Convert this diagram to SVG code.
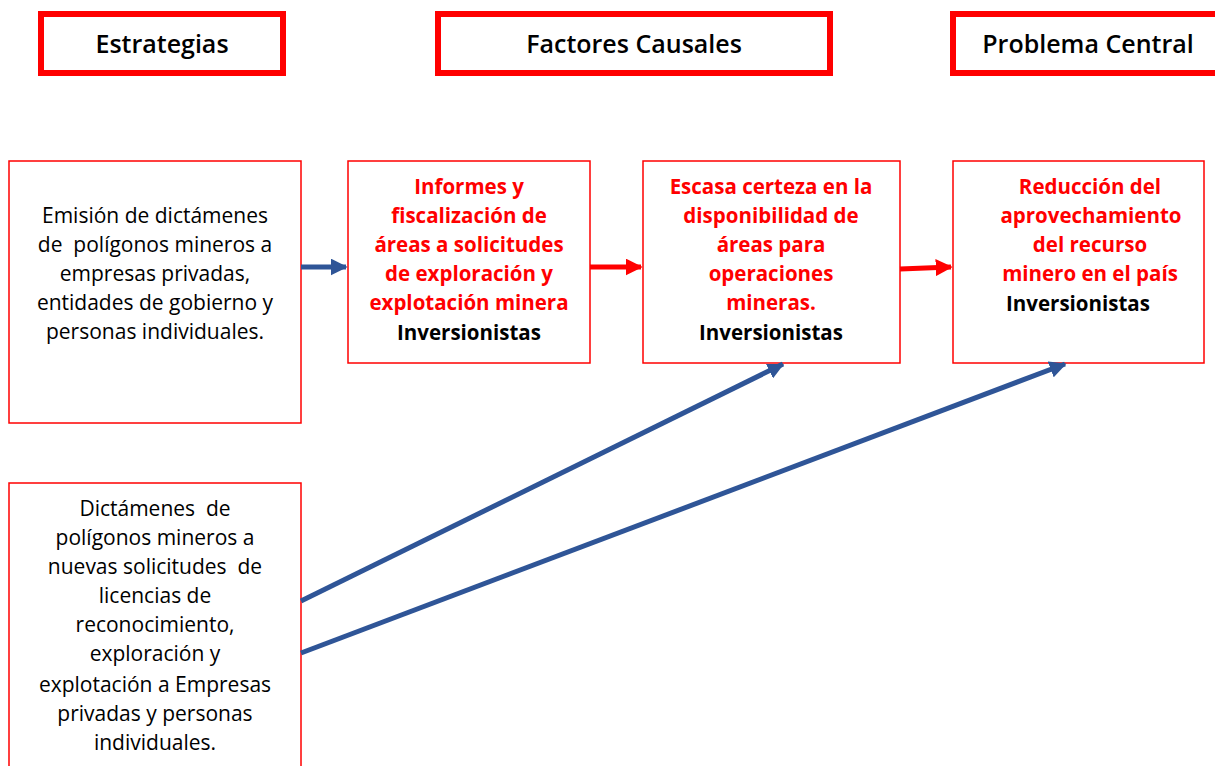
<svg xmlns="http://www.w3.org/2000/svg" width="1215" height="766" viewBox="0 0 1215 766">
<style>
.hdr{fill:#fff;stroke:#ff0000;stroke-width:6}
.box{fill:#fff;stroke:#ff0000;stroke-width:1.5}
.ht{font-family:"Open Sans",sans-serif;font-weight:600;font-size:25px;fill:#000;text-anchor:middle}
.t{font-family:"Open Sans",sans-serif;font-size:21px;fill:#000;text-anchor:middle}
.r{font-family:"Open Sans",sans-serif;font-weight:700;font-size:20.5px;fill:#ff0000;text-anchor:middle}
.b{font-family:"Open Sans",sans-serif;font-weight:700;font-size:20.5px;fill:#000;text-anchor:middle}
.blue{stroke:#2f5597;stroke-width:5;fill:none}
.red{stroke:#ff0000;stroke-width:5;fill:none}
</style>
<defs>
<marker id="ab" viewBox="0 0 10 10" refX="9" refY="5" markerWidth="3.4" markerHeight="3.4" orient="auto" markerUnits="strokeWidth"><path d="M0,0 L10,5 L0,10 z" fill="#2f5597"/></marker>
<marker id="ar" viewBox="0 0 10 10" refX="9" refY="5" markerWidth="3.4" markerHeight="3.4" orient="auto" markerUnits="strokeWidth"><path d="M0,0 L10,5 L0,10 z" fill="#ff0000"/></marker>
</defs>
<rect width="1215" height="766" fill="#fff"/>
<g id="h1"><rect class="hdr" x="41" y="14" width="242" height="59"/><text class="ht" x="162" y="53">Estrategias</text></g>
<g id="h2"><rect class="hdr" x="438" y="14" width="392" height="59"/><text class="ht" x="634" y="53">Factores Causales</text></g>
<g id="h3"><rect class="hdr" x="953" y="14" width="275" height="59"/><text class="ht" x="1088" y="53">Problema Central</text></g>

<g id="nA"><rect class="box" x="9" y="161" width="292" height="262"/>
<text class="t" x="155" y="223">Emisión de dictámenes</text>
<text class="t" x="155" y="252" xml:space="preserve">de  polígonos mineros a</text>
<text class="t" x="155" y="281">empresas privadas,</text>
<text class="t" x="155" y="310">entidades de gobierno y</text>
<text class="t" x="155" y="339">personas individuales.</text>
</g>
<g id="nB"><rect class="box" x="348" y="161" width="242" height="202"/>
<text class="r" x="469" y="194">Informes y</text>
<text class="r" x="469" y="223">fiscalización de</text>
<text class="r" x="469" y="252">áreas a solicitudes</text>
<text class="r" x="469" y="281">de exploración y</text>
<text class="r" x="469" y="310">explotación minera</text>
<text class="b" x="469" y="340">Inversionistas</text>
</g>
<g id="nC"><rect class="box" x="643" y="161" width="257" height="202"/>
<text class="r" x="771" y="194">Escasa certeza en la</text>
<text class="r" x="771" y="223">disponibilidad de</text>
<text class="r" x="771" y="252">áreas para</text>
<text class="r" x="771" y="281">operaciones</text>
<text class="r" x="771" y="310">mineras.</text>
<text class="b" x="771" y="340">Inversionistas</text>
</g>
<g id="nD"><rect class="box" x="953" y="161" width="251" height="202"/>
<text class="r" x="1090" y="194">Reducción del</text>
<text class="r" x="1091" y="223">aprovechamiento</text>
<text class="r" x="1090" y="252">del recurso</text>
<text class="r" x="1090" y="281">minero en el país</text>
<text class="b" x="1078" y="311">Inversionistas</text>
</g>
<g id="nE"><rect class="box" x="9" y="483" width="292" height="300"/>
<text class="t" x="155" y="516" xml:space="preserve">Dictámenes  de</text>
<text class="t" x="155" y="545">polígonos mineros a</text>
<text class="t" x="155" y="574" xml:space="preserve">nuevas solicitudes  de</text>
<text class="t" x="155" y="603">licencias de</text>
<text class="t" x="155" y="632">reconocimiento,</text>
<text class="t" x="155" y="661">exploración y</text>
<text class="t" x="155" y="692">explotación a Empresas</text>
<text class="t" x="155" y="721">privadas y personas</text>
<text class="t" x="155" y="750">individuales.</text>
</g>
<g id="connectors">
<line class="blue" x1="301" y1="267" x2="346" y2="267" marker-end="url(#ab)"/>
<line class="red" x1="590" y1="267" x2="641" y2="267" marker-end="url(#ar)"/>
<line class="red" x1="900" y1="269" x2="951" y2="267" marker-end="url(#ar)"/>
<line class="blue" x1="301" y1="601" x2="783" y2="364" marker-end="url(#ab)"/>
<line class="blue" x1="301" y1="653" x2="1065" y2="364" marker-end="url(#ab)"/>
</g>
</svg>
